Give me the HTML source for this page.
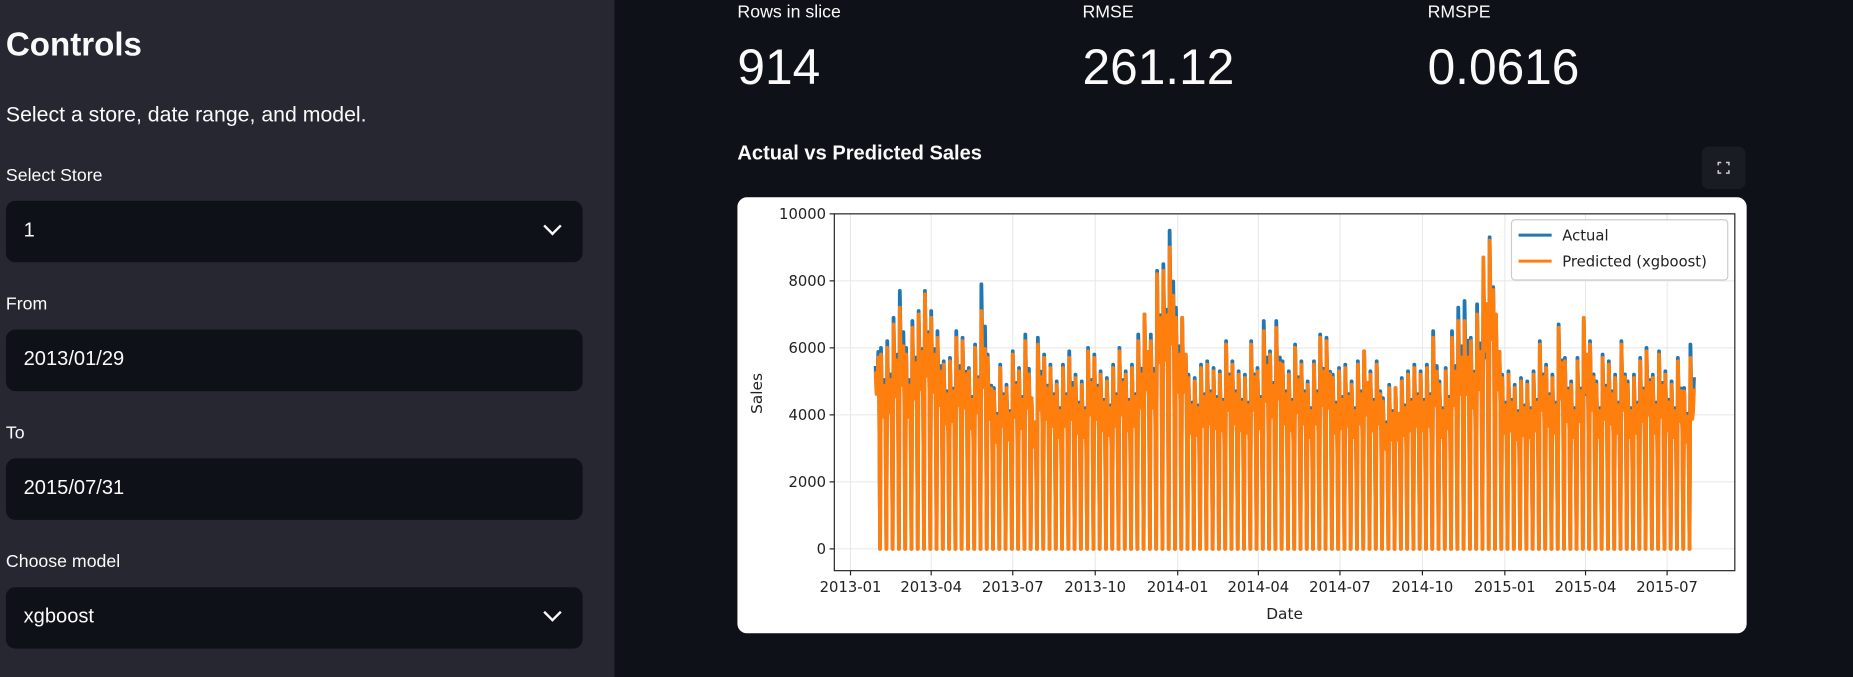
<!DOCTYPE html>
<html><head><meta charset="utf-8">
<style>
html,body{margin:0;padding:0;width:1853px;height:677px;overflow:hidden;background:#0e1117;}
#stage{position:absolute;left:0;top:0;width:1568px;height:573px;transform:scale(1.18176,1.18150);transform-origin:0 0;font-family:"Liberation Sans","DejaVu Sans",sans-serif;color:#fafafa;}
.sidebar{position:absolute;left:0;top:0;width:520px;height:573px;background:#262730;}
.abs{position:absolute;white-space:nowrap;}
.lbl{font-size:15px;color:#fafafa;}
.box{position:absolute;left:5px;width:488px;height:52px;background:#0e1117;border-radius:8px;}
.box span{position:absolute;left:15px;top:15px;font-size:17px;}
.chev{position:absolute;right:20px;top:16px;width:9px;height:9px;border-right:2.5px solid #fafafa;border-bottom:2.5px solid #fafafa;transform:rotate(45deg);}
.mlabel{font-size:15px;}
.mval{font-size:42px;}
</style></head><body>
<div id="stage">
<div class="sidebar">
 <div class="abs" style="left:5px;top:22px;font-size:28px;font-weight:bold;">Controls</div>
 <div class="abs" style="left:5px;top:87px;font-size:18px;">Select a store, date range, and model.</div>
 <div class="abs lbl" style="left:5px;top:140px;">Select Store</div>
 <div class="box" style="top:170px;"><span>1</span><div class="chev"></div></div>
 <div class="abs lbl" style="left:5px;top:249px;">From</div>
 <div class="box" style="top:279px;"><span>2013/01/29</span></div>
 <div class="abs lbl" style="left:5px;top:358px;">To</div>
 <div class="box" style="top:388px;"><span>2015/07/31</span></div>
 <div class="abs lbl" style="left:5px;top:467px;">Choose model</div>
 <div class="box" style="top:497px;"><span>xgboost</span><div class="chev"></div></div>
</div>

<div class="abs mlabel" style="left:624px;top:2px;">Rows in slice</div>
<div class="abs mval" style="left:624px;top:33px;">914</div>
<div class="abs mlabel" style="left:916px;top:2px;">RMSE</div>
<div class="abs mval" style="left:916px;top:33px;">261.12</div>
<div class="abs mlabel" style="left:1208px;top:2px;">RMSPE</div>
<div class="abs mval" style="left:1208px;top:33px;">0.0616</div>

<div class="abs" style="left:624px;top:120px;font-size:17px;font-weight:bold;">Actual vs Predicted Sales</div>
<div class="abs" style="left:1440px;top:124px;width:37px;height:36px;background:#1a1c23;border-radius:6px;">
 <svg width="37" height="36"><g stroke="#ccc" stroke-width="1.3" fill="none"><path d="M14 16v-2.5h2.5M20.5 13.5H23V16M23 20v2.5h-2.5M16.5 22.5H14V20"/></g></svg>
</div>

<div class="abs" style="left:624px;top:167px;width:854px;height:369px;background:#fff;border-radius:8px;"></div>
<svg id="chart" class="abs" style="left:0;top:0;" width="1568" height="573" font-family="DejaVu Sans, sans-serif"></svg>
</div>

<script>
// weekly peak (Monday) sales, weeks starting 2013-01-28
const actualPeaks=[7000,6000,6200,6900,7700,6000,6800,7100,7700,7100,6500,5600,5700,6500,6300,5400,6100,7900,5800,4800,5500,4900,5900,5400,6400,4500,6300,5800,5500,5000,5500,5900,5200,5000,6000,5800,5300,5100,5500,6000,5300,5500,6400,7000,6400,8300,8500,9500,7200,6900,5200,5100,5500,5600,5400,5300,6200,5600,5300,5200,6200,5400,6800,5900,6800,5600,5300,6100,5600,5000,5600,6400,6300,5200,5400,5500,5000,5600,5900,5300,5600,4500,4900,4800,5100,5300,5500,5300,5500,6500,5000,5400,6500,7200,7400,6300,7300,8400,9300,7000,5200,5300,4900,5100,5000,5300,6200,5500,5200,6700,5700,5000,5700,6800,6200,5000,5800,5600,5200,6200,5000,5200,5700,6000,5200,5900,5300,5000,5700,4800,6100];
const predictedPeaks=[6800,5800,6000,6700,7200,5800,6600,7000,7600,6900,6300,5500,5600,6300,6200,5300,6000,7100,5700,4700,5400,4800,5800,5300,6200,4500,6100,5700,5400,4900,5400,5700,5100,4900,5900,5700,5200,5000,5400,5900,5200,5400,6200,7000,6200,8200,8300,9000,6900,6900,5100,5000,5400,5500,5300,5200,6100,5500,5200,5100,6100,5300,6500,5800,6600,5500,5200,6000,5500,4900,5500,6300,6200,5100,5300,5400,4900,5500,5900,5200,5500,4400,4800,4800,5000,5200,5400,5200,5400,6300,4900,5300,6300,6800,6800,6200,7000,8700,9200,7000,5100,5200,4800,5000,4900,5200,6100,5400,5100,6600,5600,4900,5600,6900,6100,4900,5700,5500,5100,6100,4900,5100,5600,5900,5100,5800,5200,4900,5600,4700,5700];
// day-of-week level relative to the Monday peak (Mon..Sun)
const weekdayShare=[1.0,0.78,0.68,0.72,0.84,0.62,0];
const yTicks=[0,2000,4000,6000,8000,10000];
const xTickLabels=["2013-01","2013-04","2013-07","2013-10","2014-01","2014-04","2014-07","2014-10","2015-01","2015-04","2015-07"];
const startDate="2013-01-29", endDate="2015-07-31";

const svg=document.getElementById('chart');
const NS='http://www.w3.org/2000/svg';
const L=706,R=1468,T=181,B=483;
const x0=Date.UTC(2013,0,1), pxPerDay=691/911;
function xScale(ms){return 719.7+(ms-x0)/86400000*pxPerDay;}
const yMin=-650,yMax=10000;
function yScale(v){return B-(v-yMin)/(yMax-yMin)*(B-T);}
function mk(tag,attrs){const e=document.createElementNS(NS,tag);for(const k in attrs)e.setAttribute(k,attrs[k]);svg.appendChild(e);return e;}

yTicks.forEach(v=>{const g=mk('line',{x1:L,x2:R,y1:yScale(v),y2:yScale(v),stroke:'#e6e6e6','stroke-width':0.8});

});
xTickLabels.forEach(s=>{const [y,m]=s.split('-').map(Number);const x=xScale(Date.UTC(y,m-1,1));
const g=mk('line',{x1:x,x2:x,y1:T,y2:B,stroke:'#e6e6e6','stroke-width':0.8});

});

function buildPoints(peaks){
 const s=Date.parse(startDate+'T00:00:00Z'),e=Date.parse(endDate+'T00:00:00Z');
 const w0=Date.UTC(2013,0,28);const pts=[];
 for(let t=s;t<=e;t+=86400000){const d=Math.round((t-w0)/86400000);const wk=Math.floor(d/7),dow=d%7;
  const p=peaks[Math.min(wk,peaks.length-1)];pts.push(xScale(t).toFixed(2)+','+yScale(p*weekdayShare[dow]).toFixed(2));}
 return pts.join(' ');}
const la=mk('polyline',{points:buildPoints(actualPeaks),fill:'none',stroke:'#1f77b4','stroke-width':3.2,'stroke-linejoin':'round'});


const lp=mk('polyline',{points:buildPoints(predictedPeaks),fill:'none',stroke:'#ff7f0e','stroke-width':3.2,'stroke-linejoin':'round'});



const fr=mk('rect',{x:L,y:T,width:R-L,height:B-T,fill:'none',stroke:'#222','stroke-width':1});



yTicks.forEach(v=>{const y=yScale(v);mk('line',{x1:L-4,x2:L,y1:y,y2:y,stroke:'#222'});
const t=mk('text',{x:L-7,y:y+4.5,'text-anchor':'end','font-size':12.5,fill:'#222'});t.textContent=v;

});
xTickLabels.forEach(s=>{const [y,m]=s.split('-').map(Number);const x=xScale(Date.UTC(y,m-1,1));
mk('line',{x1:x,x2:x,y1:B,y2:B+4,stroke:'#222'});
const t=mk('text',{x:x,y:B+18,'text-anchor':'middle','font-size':12.5,fill:'#222'});t.textContent=s;

});

const xt=mk('text',{x:(L+R)/2,y:524,'text-anchor':'middle','font-size':13,fill:'#222'});xt.textContent='Date';


const yt=mk('text',{x:0,y:0,'text-anchor':'middle','font-size':13,fill:'#222',transform:'translate(645,333) rotate(-90)'});yt.textContent='Sales';



const lg=mk('rect',{x:1279,y:186,width:183,height:51,rx:3,fill:'#fff','fill-opacity':0.85,stroke:'#ccc'});


[['Actual','#1f77b4',199],['Predicted (xgboost)','#ff7f0e',221]].forEach(([n,c,y])=>{
 mk('line',{x1:1285,x2:1313,y1:y,y2:y,stroke:c,'stroke-width':2.5});
 const t=mk('text',{x:1322,y:y+4.5,'font-size':12.5,fill:'#222'});t.textContent=n;
 
 });
</script>
</body></html>
